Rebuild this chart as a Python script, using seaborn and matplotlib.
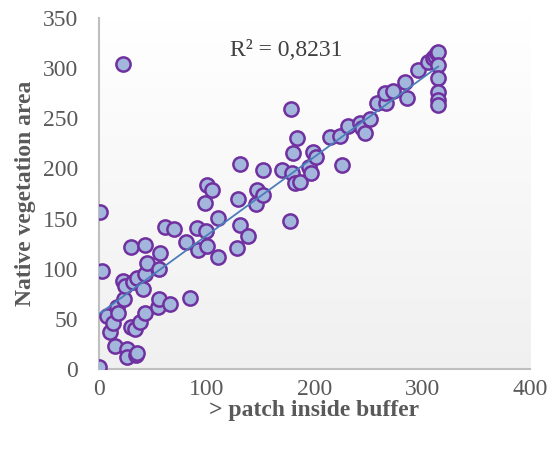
import numpy as np
import pandas as pd
import matplotlib
matplotlib.use("Agg")
import matplotlib.pyplot as plt
import seaborn as sns

patch = [0, 1, 3, 7, 10, 12.7, 15, 17, 17.3, 22.6, 22.6, 23.5, 24, 25.7, 25.7, 30, 30, 31.8,
         33.4, 34.4, 35, 35, 38, 40.5, 42.7, 42.7, 42.7, 45, 55, 56, 56, 56.6, 61, 66, 70,
         80.5, 84.5, 90.7, 92, 98.4, 99.4, 100.6, 100.6, 104.6, 110, 110.8, 127.8, 128.8,
         131, 131, 138.6, 145.8, 146.4, 152, 152.6, 170, 177.3, 178, 179, 180, 182, 183.5,
         186.6, 195, 196.8, 199, 201.5, 214, 223.5, 225.5, 231, 242, 244, 247, 251.6, 258.4,
         266, 265.5, 273, 284, 286, 296.5, 305, 310.4, 312, 313.5, 315, 315, 315, 315, 315, 315]
native = [2, 157, 98, 53, 37, 46, 23, 61.5, 55.5, 88, 304, 70, 83, 19.5, 12, 122, 42, 87,
          40, 14, 16, 91, 47, 79.5, 124, 95, 56, 106, 62, 69.5, 100, 116, 142, 65, 140,
          127, 70.5, 141, 118.6, 166, 138, 122.6, 183.5, 178.5, 112, 151, 121, 170,
          143.6, 204, 132.6, 165, 178.5, 198, 173.5, 198, 148, 259, 195, 215, 185, 230.6,
          186.7, 201.7, 195, 216.6, 211.7, 231.6, 232, 203, 242, 245, 240, 235, 249.5, 265.5,
          265.5, 275, 277, 286.5, 270.6, 298.5, 306.5, 309.7, 312, 315, 316.5, 303, 290, 276.5, 268, 263]

x_ticks = [0, 100, 200, 300, 400]
y_ticks = [0, 50, 100, 150, 200, 250, 300, 350]
x_label = "> patch inside buffer"
y_label = "Native vegetation area"
r2_text = "R² = 0,8231"

df = pd.DataFrame({"patch": patch, "native": native})

sns.set_style("white")
plt.rcParams["font.family"] = ["Liberation Serif", "DejaVu Serif"]

fig = plt.figure(figsize=(5.54, 4.5), dpi=100)
ax = fig.add_axes([0.1787, 0.18, 0.778, 0.78])

# gradient background
grad = np.linspace(1, 0, 256).reshape(-1, 1)
cmap = matplotlib.colors.LinearSegmentedColormap.from_list("g", ["#f0f0f0", "#ffffff"])
ax.imshow(grad, cmap=cmap, aspect="auto", extent=[0, 1, 0, 1], transform=ax.transAxes,
          zorder=0, origin="upper", vmin=0, vmax=1)

sns.regplot(data=df, x="patch", y="native", ax=ax, ci=None, truncate=True,
            scatter_kws=dict(s=105, facecolor="#a3b7dc", edgecolor="#7030a0",
                             linewidths=1.8, alpha=1, zorder=3),
            line_kws=dict(color="#4a7ebb", lw=1.3, zorder=4))

ax.set_xlim(0, 400)
ax.set_ylim(0, 350)
ax.set_xticks(x_ticks)
ax.set_yticks(y_ticks)
ax.tick_params(axis="both", length=0, labelsize=17, labelcolor="#595959")
ax.tick_params(axis="x", pad=7)
ax.tick_params(axis="y", pad=15)
ax.set_xlabel(x_label, fontsize=17, fontweight="bold", color="#595959", labelpad=0)
ax.set_ylabel(y_label, fontsize=17, fontweight="bold", color="#595959", labelpad=5)

for s in ["top", "right"]:
    ax.spines[s].set_visible(False)
for s in ["left", "bottom"]:
    ax.spines[s].set_color("#bfbfbf")
    ax.spines[s].set_linewidth(1.5)

ax.text(173.6, 318, r2_text, ha="center", va="center", fontsize=17, color="#404040", zorder=5)

fig.savefig("out.png", dpi=100)
